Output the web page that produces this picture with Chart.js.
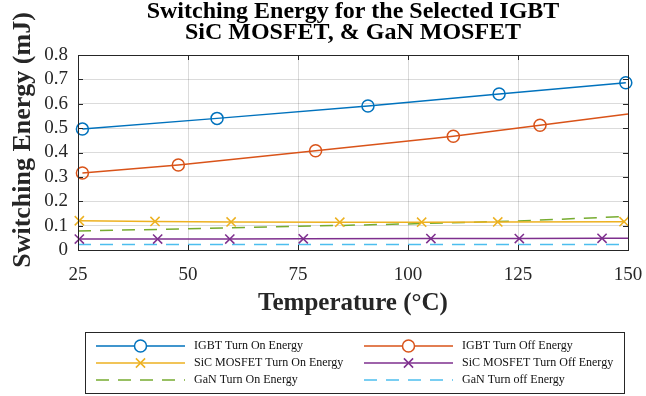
<!DOCTYPE html>
<html>
<head>
<meta charset="utf-8">
<script src="https://cdn.jsdelivr.net/npm/chart.js@4"></script>
<style>
    body { margin: 0; background: #fff; }
</style>
</head>
<body>
<canvas id="energyChart" width="646" height="396"></canvas>
<script>
const xTicks = [25, 50, 75, 100, 125, 150];
const yTicks = [0, 0.1, 0.2, 0.3, 0.4, 0.5, 0.6, 0.7, 0.8];

const chartTitle = ['Switching Energy for the Selected IGBT', 'SiC MOSFET, & GaN MOSFET'];
const xLabel = 'Temperature (°C)';
const yLabel = 'Switching Energy (mJ)';

const seriesNames = [
    'IGBT Turn On Energy',
    'IGBT Turn Off Energy',
    'SiC MOSFET Turn On Energy',
    'SiC MOSFET Turn Off Energy',
    'GaN Turn On Energy',
    'GaN Turn off Energy'
];

const igbtOnTemp = [26, 56.6, 90.9, 120.7, 149.5];
const igbtOnEnergy = [0.496, 0.540, 0.591, 0.640, 0.686];

const igbtOffTemp = [26, 47.8, 79, 110.3, 130, 150];
const igbtOffEnergy = [0.316, 0.349, 0.407, 0.467, 0.512, 0.558];

const sicOnTemp = [25.3, 42.5, 59.8, 84.5, 103.1, 120.4, 149.1];
const sicOnEnergy = [0.120, 0.117, 0.115, 0.114, 0.114, 0.115, 0.116];

const sicOffTemp = [25.3, 43.1, 59.5, 76.2, 105.2, 125.3, 144.1, 150];
const sicOffEnergy = [0.045, 0.045, 0.045, 0.046, 0.047, 0.047, 0.048, 0.048];

const ganOnTemp = [25, 50, 75, 100, 125, 150];
const ganOnEnergy = [0.078, 0.087, 0.097, 0.107, 0.119, 0.138];

const ganOffTemp = [25, 50, 75, 100, 125, 150];
const ganOffEnergy = [0.023, 0.023, 0.023, 0.023, 0.023, 0.023];

const serif = "'Liberation Serif', 'Times New Roman', serif";
const axisColor = '#262626';

function toPoints(xs, ys) {
    return xs.map((x, i) => ({x: x, y: ys[i]}));
}

function makeSeries(label, points, color, opts) {
    let markerCount = opts.markerCount === undefined ? points.length : opts.markerCount;
    return {
        label: label,
        data: points,
        borderColor: color,
        backgroundColor: 'rgba(0,0,0,0)',
        borderWidth: 1.5,
        borderDash: opts.dash || [],
        pointStyle: opts.marker || false,
        pointRadius: ctx => (opts.marker && ctx.dataIndex < markerCount) ? opts.size : 0,
        pointHoverRadius: 0,
        pointBorderWidth: 1.5,
        pointBorderColor: color,
        pointBackgroundColor: 'rgba(0,0,0,0)',
        tension: 0,
        clip: false,
        legendMarker: opts.marker || null,
        legendSize: opts.size || 0
    };
}

// box around the axes with inward ticks, like MATLAB
const axesBox = {
    id: 'axesBox',
    afterDatasetsDraw(chart) {
        const {ctx, chartArea: a, scales} = chart;
        ctx.save();
        ctx.strokeStyle = axisColor;
        ctx.lineWidth = 1;
        ctx.beginPath();
        xTicks.forEach(v => {
            let px = Math.round(scales.x.getPixelForValue(v)) + 0.5;
            ctx.moveTo(px, a.bottom); ctx.lineTo(px, a.bottom - 5);
            ctx.moveTo(px, a.top); ctx.lineTo(px, a.top + 5);
        });
        yTicks.forEach(v => {
            let py = Math.round(scales.y.getPixelForValue(v)) + 0.5;
            ctx.moveTo(a.left, py); ctx.lineTo(a.left + 5, py);
            ctx.moveTo(a.right, py); ctx.lineTo(a.right - 5, py);
        });
        ctx.stroke();
        ctx.strokeRect(Math.round(a.left) + 0.5, Math.round(a.top) + 0.5,
            Math.round(a.right - a.left), Math.round(a.bottom - a.top));
        ctx.restore();
    }
};

// title centred over the axes and the rotated y label
const axesText = {
    id: 'axesText',
    afterDraw(chart) {
        const {ctx, chartArea: a} = chart;
        let cx = (a.left + a.right) / 2;
        ctx.save();
        ctx.fillStyle = '#000';
        ctx.textAlign = 'center';
        ctx.textBaseline = 'middle';
        ctx.font = 'bold 24px ' + serif;
        ctx.fillText(chartTitle[0], cx, 12);
        ctx.fillText(chartTitle[1], cx, 33);
        ctx.fillStyle = axisColor;
        ctx.font = 'bold 26px ' + serif;
        ctx.translate(23, 140);
        ctx.rotate(-Math.PI / 2);
        ctx.fillText(yLabel, 0, 0);
        ctx.restore();
    }
};

// legend box below the plot: line sample with marker in the middle
const boxLegend = {
    id: 'boxLegend',
    afterDraw(chart) {
        const ctx = chart.ctx;
        const left = 85.5, top = 332.5, width = 539, height = 61;
        const colX = [96, 364];
        const rowY = [346, 363, 380];
        const sampleLen = 89;
        ctx.save();
        ctx.fillStyle = '#fff';
        ctx.fillRect(left, top, width, height);
        ctx.strokeStyle = axisColor;
        ctx.lineWidth = 1;
        ctx.strokeRect(left, top, width, height);
        chart.data.datasets.forEach((ds, i) => {
            let x0 = colX[i % 2];
            let y = rowY[Math.floor(i / 2)];
            ctx.strokeStyle = ds.borderColor;
            ctx.lineWidth = ds.borderWidth;
            ctx.setLineDash(ds.borderDash);
            ctx.beginPath();
            ctx.moveTo(x0, y);
            ctx.lineTo(x0 + sampleLen, y);
            ctx.stroke();
            ctx.setLineDash([]);
            let cx = x0 + sampleLen / 2;
            let r = ds.legendSize;
            ctx.beginPath();
            if (ds.legendMarker === 'circle') {
                ctx.fillStyle = '#fff';
                ctx.arc(cx, y, r, 0, Math.PI * 2);
                ctx.fill();
                ctx.stroke();
            } else if (ds.legendMarker === 'crossRot') {
                let d = r * Math.SQRT1_2;
                ctx.moveTo(cx - d, y - d); ctx.lineTo(cx + d, y + d);
                ctx.moveTo(cx - d, y + d); ctx.lineTo(cx + d, y - d);
                ctx.stroke();
            }
            ctx.fillStyle = '#111';
            ctx.font = '12px ' + serif;
            ctx.textAlign = 'left';
            ctx.textBaseline = 'middle';
            ctx.fillText(ds.label, x0 + 98, y);
        });
        ctx.restore();
    }
};

function drawEnergyChart() {
    const ctx = document.getElementById('energyChart').getContext('2d');
    new Chart(ctx, {
        type: 'line',
        data: {
            datasets: [
                makeSeries(seriesNames[0], toPoints(igbtOnTemp, igbtOnEnergy), '#0072BD', {marker: 'circle', size: 6}),
                makeSeries(seriesNames[1], toPoints(igbtOffTemp, igbtOffEnergy), '#D95319', {marker: 'circle', size: 6, markerCount: 5}),
                makeSeries(seriesNames[2], toPoints(sicOnTemp, sicOnEnergy), '#EDB120', {marker: 'crossRot', size: 6.5}),
                makeSeries(seriesNames[3], toPoints(sicOffTemp, sicOffEnergy), '#7E2F8E', {marker: 'crossRot', size: 6.5, markerCount: 7}),
                makeSeries(seriesNames[4], toPoints(ganOnTemp, ganOnEnergy), '#77AC30', {dash: [13, 9]}),
                makeSeries(seriesNames[5], toPoints(ganOffTemp, ganOffEnergy), '#4DBEEE', {dash: [13, 9]})
            ]
        },
        options: {
            responsive: false,
            animation: false,
            events: [],
            layout: {
                padding: {top: 55, right: 18, bottom: 80, left: 0}
            },
            plugins: {
                legend: {display: false},
                tooltip: {enabled: false},
                title: {display: false}
            },
            scales: {
                x: {
                    type: 'linear',
                    min: 25,
                    max: 150,
                    afterBuildTicks: scale => { scale.ticks = xTicks.map(v => ({value: v})); },
                    afterFit: scale => {
                        scale.height = 66;
                        scale.paddingLeft = 0;
                        scale.paddingRight = 0;
                    },
                    border: {display: false},
                    grid: {color: 'rgba(0,0,0,0.14)', lineWidth: 1, drawTicks: false},
                    ticks: {
                        color: axisColor,
                        padding: 14,
                        maxRotation: 0,
                        autoSkip: false,
                        font: {family: serif, size: 19}
                    },
                    title: {
                        display: true,
                        text: xLabel,
                        color: axisColor,
                        font: {family: serif, size: 25, weight: 'bold', lineHeight: 1},
                        padding: {top: 0, bottom: 0}
                    }
                },
                y: {
                    type: 'linear',
                    min: 0,
                    max: 0.8,
                    afterBuildTicks: scale => { scale.ticks = yTicks.map(v => ({value: v})); },
                    afterFit: scale => {
                        scale.width = 78;
                        scale.paddingTop = 0;
                        scale.paddingBottom = 0;
                    },
                    border: {display: false},
                    grid: {color: 'rgba(0,0,0,0.14)', lineWidth: 1, drawTicks: false},
                    ticks: {
                        color: axisColor,
                        padding: 10,
                        autoSkip: false,
                        callback: v => String(v),
                        font: {family: serif, size: 19}
                    }
                }
            }
        },
        plugins: [axesBox, axesText, boxLegend]
    });
}

drawEnergyChart();
</script>
</body>
</html>
